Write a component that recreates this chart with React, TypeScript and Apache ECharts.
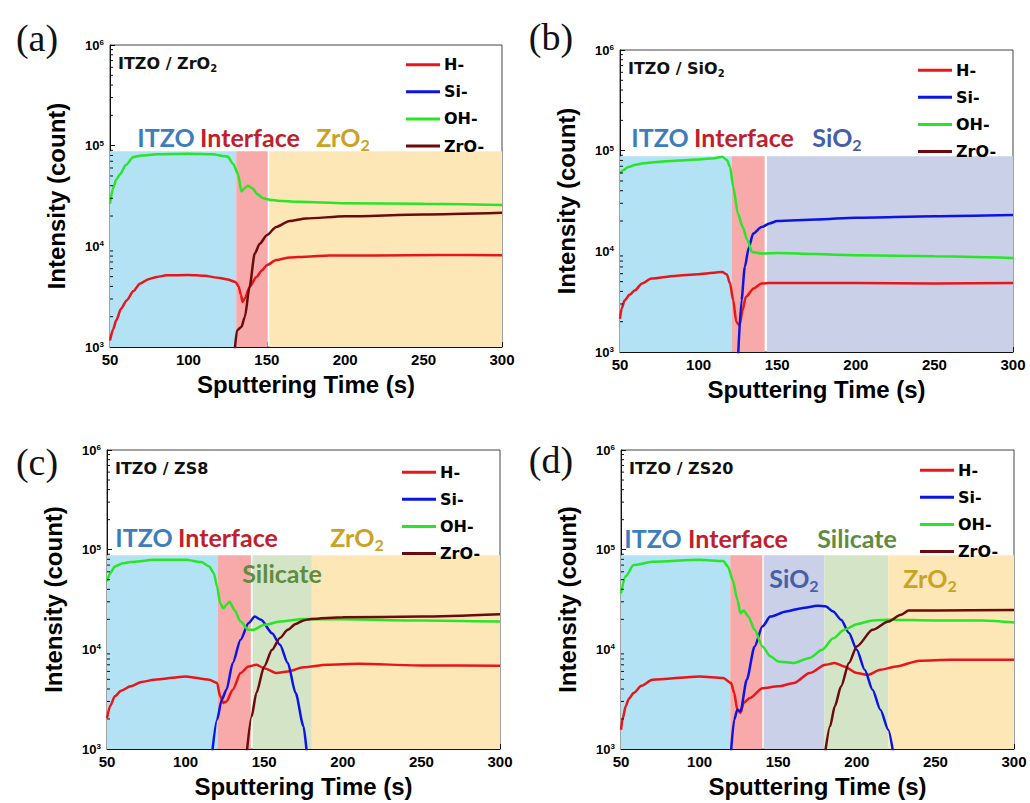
import React, { useEffect, useRef } from "react";
import * as echarts from "echarts";

// ---------- data ----------
const SERIES_NAMES = ["H-", "Si-", "OH-", "ZrO-"];
const X_TICKS = [50, 100, 150, 200, 250, 300];
const Y_MINOR = [2e3, 3e3, 4e3, 5e3, 6e3, 7e3, 8e3, 9e3, 2e4, 3e4, 4e4, 5e4, 6e4, 7e4, 8e4, 9e4, 2e5, 3e5, 4e5, 5e5, 6e5, 7e5, 8e5, 9e5];
const SHADE_TOP = 88000;

// (a) ITZO / ZrO2
const aH = [[50,1160],[52,1500],[54,1840],[57,2400],[60.6,2900],[65,3600],[69,4260],[75,4750],[80,4970],[86,5150],[100,5200],[110,5100],[120,4850],[125,4680],[130,4430],[132,4000],[133.5,3300],[134.5,2800],[136,3030],[139,3950],[143.4,4970],[147,5800],[150,6500],[156,7300],[164.6,7740],[175,7900],[190,8100],[220,8100],[260,8200],[300,8170]];
const aSi: number[][] = [];
const aOH = [[50,26600],[52,38000],[54,46000],[56.4,52000],[60,64000],[64.9,77000],[70,80000],[80,82000],[100,83000],[115,82000],[125,78000],[128.5,66000],[131.7,52000],[133.8,35000],[136,38000],[138,40000],[141,37500],[144,33000],[147.6,30000],[152,29000],[160,28200],[171,27700],[200,26800],[250,26500],[300,25800]];
const aZrO = [[129.6,950],[131,1460],[133.8,1580],[136,1990],[139,3950],[142.3,8470],[145.5,10600],[150,12900],[156,15600],[164.6,17900],[175,18900],[200,19900],[250,20700],[300,21500]];
const aRegions: [string, number, number][] = [["ITZO",50,130.5],["Interface",130.5,150.6],["ZrO2",151.6,300]];

// (b) ITZO / SiO2
const bH = [[50,2140],[51,2700],[53,3260],[56,3700],[59.5,4100],[64,4800],[70,5370],[85,5700],[100,5920],[115,6240],[118,5900],[120,4780],[122,3260],[124,1990],[126,1840],[128,2600],[130,3520],[135,4270],[140,4780],[145,4860],[200,4860],[250,4800],[300,4860]];
const bSi = [[125.2,950],[127.3,3260],[129.4,7000],[132,11000],[134.7,15000],[140,17400],[145,18900],[150,20000],[175,20700],[200,21600],[250,22300],[300,22900]];
const bOH = [[50,59300],[52,64000],[55.3,69000],[60,72500],[65,75000],[75,77700],[100,81900],[110,84000],[115,87000],[118,81000],[120,69000],[122,43800],[125,23700],[128,17500],[131,12900],[134,9870],[140,9500],[150,9640],[200,9140],[250,8950],[300,8600]];
const bZrO: number[][] = [];
const bRegions: [string, number, number][] = [["ITZO",50,121],["Interface",121,142],["SiO2",143.5,300]];

// (c) ITZO / ZS8
const cH = [[50,2040],[52,2700],[55,3380],[59,3850],[65,4250],[72,4700],[80,4950],[100,5350],[115,4950],[120,4590],[122,3380],[124,2900],[126,3000],[130,3940],[135,5780],[140,6730],[145,7000],[150,6470],[158,5780],[165,6000],[175,6600],[190,7000],[210,7150],[250,6900],[300,6850]];
const cSi = [[117,950],[120,1970],[123,3120],[126,3930],[130,7300],[135,12500],[140,18300],[144,21300],[148,19800],[155,14500],[160,11100],[165,7300],[170,3640],[175,1690],[177,950]];
const cOH = [[50,48000],[52,58000],[55,67800],[60,73000],[65,75000],[80,79000],[100,79000],[110,75000],[115,67800],[118,58000],[120,42700],[122,29000],[124,25800],[126,28000],[128,30000],[131,25000],[135,19000],[140,15700],[143,15700],[150,17600],[160,19000],[175,20100],[200,20000],[250,19500],[300,19000]];
const cZrO = [[139,950],[142,2120],[145,3640],[150,6730],[155,9900],[160,13000],[165,15700],[170,18000],[175,19500],[180,20200],[200,21000],[250,21300],[300,22500]];
const cRegions: [string, number, number][] = [["ITZO",50,120.3],["Interface",120.3,141.5],["Silicate",142.6,180.3],["ZrO2",180.3,300]];

// (d) ITZO / ZS20
const dH = [[50,1560],[51,2000],[53,2680],[55,3200],[58,3640],[63,4300],[70,4950],[100,5350],[115,5150],[120,4590],[122,3640],[124,2480],[126,2300],[128,2900],[132,3250],[140,4080],[150,4250],[160,4590],[170,5780],[180,7000],[186,7300],[192,6730],[200,5780],[207,5550],[215,6240],[225,6730],[240,7700],[260,7870],[300,7870]];
const dSi = [[120,950],[122,1970],[124,2480],[126,2390],[130,4950],[135,10700],[140,17000],[145,21300],[155,24000],[165,25900],[175,27300],[180,27000],[185,24000],[190,19800],[195,14600],[200,9900],[205,6250],[210,3930],[215,2480],[220,1560],[223,950]];
const dOH = [[50,36600],[53,54000],[58,70000],[70,75700],[100,79000],[115,77000],[118,67800],[121,50000],[124,31600],[126,23000],[128,24500],[131,21400],[135,15700],[140,10700],[145,8500],[150,7570],[160,7300],[170,8200],[178,9900],[185,12900],[192,15700],[200,17900],[210,19500],[220,19800],[250,19500],[280,19500],[300,18600]];
const dZrO = [[180,950],[183,1690],[186,2680],[190,4250],[195,7300],[200,10700],[210,15700],[220,19000],[228,22200],[233,24500],[250,24500],[300,24800]];
const dRegions: [string, number, number][] = [["ITZO",50,119.5],["Interface",119.5,139.9],["SiO2",140.8,179.3],["Silicate",179.3,220],["ZrO2",220,300]];

const PANEL_DATA = [
  { letter: "(a)", title: "ITZO / ZrO{s|2}", series: [aH, aSi, aOH, aZrO], regions: aRegions },
  { letter: "(b)", title: "ITZO / SiO{s|2}", series: [bH, bSi, bOH, bZrO], regions: bRegions },
  { letter: "(c)", title: "ITZO / ZS8", series: [cH, cSi, cOH, cZrO], regions: cRegions },
  { letter: "(d)", title: "ITZO / ZS20", series: [dH, dSi, dOH, dZrO], regions: dRegions },
];

// ---------- styles & layout ----------
const LINE_COLORS: Record<string, string> = { "H-": "#e8161b", "Si-": "#0c14e4", "OH-": "#26e626", "ZrO-": "#6b0b0b" };
const REGION_FILL: Record<string, string> = { ITZO: "#b2e2f4", Interface: "#f7aaa9", ZrO2: "#fde7b6", SiO2: "#c9d0e7", Silicate: "#d4e4c7" };
const REGION_TEXT: Record<string, string> = { ITZO: "#3c7dbd", Interface: "#c0202c", ZrO2: "#c9a226", SiO2: "#4660a8", Silicate: "#5f8c3f" };
const REGION_LABEL_TEXT: Record<string, string> = { ITZO: "ITZO", Interface: "Interface", ZrO2: "ZrO{s|2}", SiO2: "SiO{s|2}", Silicate: "Silicate" };

const LAYOUT = [
  { grid: { left: 110, top: 45, width: 392, height: 302 }, letterPos: [37, 38], legendPos: [406, 64.5],
    labels: [["ITZO", 166, 137], ["Interface", 250, 137], ["ZrO2", 343, 137]] },
  { grid: { left: 620, top: 50, width: 393, height: 302 }, letterPos: [551, 37], legendPos: [918, 70],
    labels: [["ITZO", 660, 137], ["Interface", 744, 137], ["SiO2", 837, 137]] },
  { grid: { left: 107, top: 450, width: 393, height: 299 }, letterPos: [37, 462], legendPos: [402, 472],
    labels: [["ITZO", 144, 537], ["Interface", 228, 537], ["ZrO2", 357, 537], ["Silicate", 282, 573]] },
  { grid: { left: 621, top: 450, width: 393, height: 299 }, letterPos: [551, 460], legendPos: [920, 470],
    labels: [["ITZO", 653, 538], ["Interface", 738, 538], ["Silicate", 857, 538], ["SiO2", 794, 578], ["ZrO2", 930, 578]] },
];

const SANS = "'Liberation Sans', Arial, sans-serif";
const DEJAVU = "'DejaVu Sans', sans-serif";
const LATO = "Lato, 'Open Sans', sans-serif";

function richText(raw: string) {
  return raw.indexOf("{s|") >= 0 ? "{m|" + raw.replace("{s|", "}{s|") : "{m|" + raw + "}";
}

function buildOption() {
  const grid: any[] = [];
  const xAxis: any[] = [];
  const yAxis: any[] = [];
  const series: any[] = [];
  const legend: any[] = [];
  const graphic: any[] = [];

  PANEL_DATA.forEach((p, i) => {
    const L = LAYOUT[i];
    grid.push({ ...L.grid, show: true, borderColor: "#444", borderWidth: 1, backgroundColor: "transparent" });
    xAxis.push({
      type: "value", gridIndex: i, min: X_TICKS[0], max: X_TICKS[X_TICKS.length - 1], interval: 50,
      name: "Sputtering Time (s)", nameLocation: "middle", nameGap: 25,
      nameTextStyle: { fontFamily: SANS, fontWeight: "bold", fontSize: 24, color: "#000" },
      axisLine: { lineStyle: { color: "#111", width: 1 } },
      axisTick: { inside: true, length: 5, lineStyle: { color: "#111" } },
      minorTick: { show: true, splitNumber: 2, length: 3, lineStyle: { color: "#111" } },
      axisLabel: { margin: 5, fontFamily: SANS, fontWeight: "bold", fontSize: 15, color: "#000" },
      splitLine: { show: false },
    });
    yAxis.push({
      type: "log", logBase: 10, gridIndex: i, min: 1000, max: 1000000,
      name: "Intensity (count)", nameLocation: "middle", nameGap: 42,
      nameTextStyle: { fontFamily: SANS, fontWeight: "bold", fontSize: 24, color: "#000" },
      axisLine: { show: true, lineStyle: { color: "#111", width: 1 } },
      axisTick: { show: true, inside: true, length: 5, lineStyle: { color: "#111" } },
      axisLabel: {
        margin: 6,
        formatter: (v: number) => "{b|10}{s|" + Math.round(Math.log10(v)) + "}",
        rich: {
          b: { fontFamily: SANS, fontWeight: "bold", fontSize: 13, color: "#000" },
          s: { fontFamily: SANS, fontWeight: "bold", fontSize: 8, color: "#000", verticalAlign: "top" },
        },
      },
      splitLine: { show: false },
    });

    // shaded regions
    series.push({
      type: "line", xAxisIndex: i, yAxisIndex: i, data: [], z: 1, silent: true,
      markArea: {
        silent: true,
        label: { show: false },
        data: p.regions.map((r) => [
          { xAxis: r[1], yAxis: 1000, itemStyle: { color: REGION_FILL[r[0]], opacity: 1 } },
          { xAxis: r[2], yAxis: SHADE_TOP },
        ]),
      },
    });

    // data lines
    SERIES_NAMES.forEach((name, k) => {
      series.push({
        type: "line", name, xAxisIndex: i, yAxisIndex: i, data: p.series[k],
        symbol: "none", showSymbol: false, smooth: 0.25, smoothMonotone: "x",
        lineStyle: { width: 2.5, color: LINE_COLORS[name] }, itemStyle: { color: LINE_COLORS[name] },
        z: 3, clip: true,
      });
    });

    // log minor ticks
    series.push({
      type: "custom", xAxisIndex: i, yAxisIndex: i, silent: true, z: 5, clip: false,
      data: Y_MINOR.map((v) => [X_TICKS[0], v]),
      renderItem: (_params: any, api: any) => {
        const pt = api.coord([api.value(0), api.value(1)]);
        return { type: "line", shape: { x1: pt[0], y1: pt[1], x2: pt[0] + 3, y2: pt[1] }, style: { stroke: "#111", lineWidth: 1 } };
      },
    });

    legend.push({
      left: L.legendPos[0], top: L.legendPos[1] - 7.8, orient: "vertical",
      data: SERIES_NAMES.map((n) => ({ name: n, icon: "rect", itemStyle: { color: LINE_COLORS[n] } })),
      itemWidth: 34, itemHeight: 3, itemGap: 11.1, padding: 0, selectedMode: false,
      textStyle: { fontFamily: DEJAVU, fontWeight: "bold", fontSize: 16, color: "#000", padding: [0, 0, 0, -1] },
    });

    // panel letter
    graphic.push({
      type: "text", x: L.letterPos[0], y: L.letterPos[1],
      style: { text: p.letter, fontFamily: "'Liberation Serif', 'Times New Roman', serif", fontSize: 38, fill: "#111", align: "center", verticalAlign: "middle" },
    });
    // panel title
    graphic.push({
      type: "text", x: L.grid.left + 8, y: L.grid.top + 18, z: 10,
      style: {
        text: richText(p.title), align: "left", verticalAlign: "middle",
        rich: {
          m: { fontFamily: DEJAVU, fontWeight: "bold", fontSize: 16, fill: "#111", lineHeight: 20 },
          s: { fontFamily: DEJAVU, fontWeight: "bold", fontSize: 10, fill: "#111", lineHeight: 6, verticalAlign: "bottom" },
        },
      },
    });
    // region labels
    L.labels.forEach((lb: any) => {
      const key = lb[0] as string;
      graphic.push({
        type: "text", x: lb[1], y: lb[2], z: 10,
        style: {
          text: richText(REGION_LABEL_TEXT[key]), align: "center", verticalAlign: "middle",
          rich: {
            m: { fontFamily: LATO, fontWeight: "bold", fontSize: 25, fill: REGION_TEXT[key], lineHeight: 30 },
            s: { fontFamily: LATO, fontWeight: "bold", fontSize: 16, fill: REGION_TEXT[key], lineHeight: 10, verticalAlign: "bottom" },
          },
        },
      });
    });
  });

  return { animation: false, backgroundColor: "#fff", grid, xAxis, yAxis, series, legend, graphic };
}

export default function App() {
  const ref = useRef<HTMLDivElement>(null);
  useEffect(() => {
    if (!ref.current) return;
    const chart = echarts.init(ref.current, null, { renderer: "svg" });
    chart.setOption(buildOption() as any);
    return () => chart.dispose();
  }, []);
  return <div ref={ref} style={{ position: "absolute", left: 0, top: 0, width: 1030, height: 803, background: "#fff" }} />;
}
